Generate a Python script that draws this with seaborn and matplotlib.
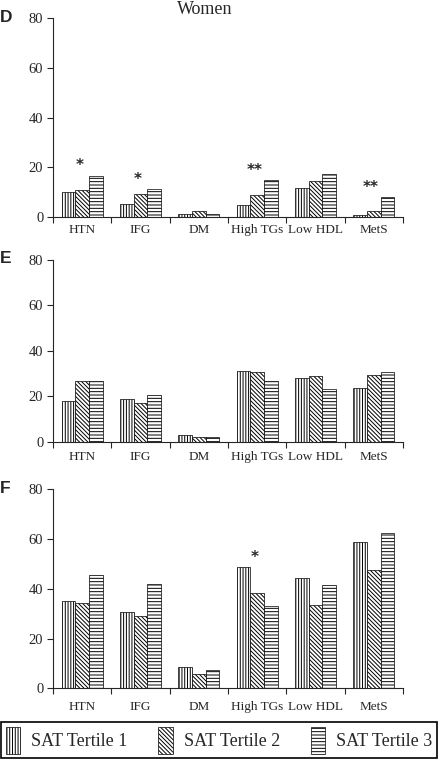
import numpy as np
import pandas as pd
import matplotlib
matplotlib.use('Agg')
import matplotlib.pyplot as plt
import seaborn as sns
from matplotlib.patches import Patch

# 数据
categories = ['HTN', 'IFG', 'DM', 'High TGs', 'Low HDL', 'MetS']
tertiles = ['SAT Tertile 1', 'SAT Tertile 2', 'SAT Tertile 3']

d_t1 = [9.9, 5.3, 1.1, 4.9, 11.5, 0.8]
d_t2 = [10.7, 9.2, 2.5, 8.8, 14.4, 2.6]
d_t3 = [16.6, 11.1, 1.2, 14.8, 17.4, 7.9]
d_sig = ['*', '*', '', '**', '', '**']

e_t1 = [18.0, 18.7, 2.8, 31.0, 28.2, 23.4]
e_t2 = [26.5, 17.1, 2.3, 30.8, 28.7, 29.5]
e_t3 = [26.8, 20.6, 1.9, 26.8, 23.2, 30.7]
e_sig = ['', '', '', '', '', '']

f_t1 = [35.1, 30.7, 8.4, 48.8, 44.4, 58.8]
f_t2 = [34.5, 29.2, 5.6, 38.4, 33.5, 47.6]
f_t3 = [45.5, 42.0, 7.2, 33.2, 41.6, 62.4]
f_sig = ['', '', '', '*', '', '']

yticks = [0, 20, 40, 60, 80]
hatches = ['||||||', '\\\\\\\\\\\\\\\\', '-----']

sns.set_style('ticks')
plt.rcParams['font.family'] = ['Liberation Serif', 'DejaVu Serif']
plt.rcParams['hatch.linewidth'] = 0.7

fig = plt.figure(figsize=(4.48, 7.59), dpi=100)

panels = [
    ('D', (d_t1, d_t2, d_t3), d_sig, [0.1183, 0.714, 0.781, 0.262], 5),
    ('E', (e_t1, e_t2, e_t3), e_sig, [0.1183, 0.418, 0.781, 0.240], 7),
    ('F', (f_t1, f_t2, f_t3), f_sig, [0.1183, 0.0931, 0.781, 0.262], 9),
]

for letter, series, sig, pos, lpad in panels:
    ax = fig.add_axes(pos)
    rows = []
    for t, vals in zip(tertiles, series):
        for c, v in zip(categories, vals):
            rows.append({'cat': c, 'tertile': t, 'val': v})
    df = pd.DataFrame(rows)
    sns.barplot(data=df, x='cat', y='val', hue='tertile', order=categories,
                hue_order=tertiles, palette=['white'] * 3, width=0.7,
                edgecolor='black', linewidth=0.5, legend=False, ax=ax,
                errorbar=None)
    for cont, h in zip(ax.containers, hatches):
        for bar in cont:
            bar.set_hatch(h)
    # 显著性标记
    for i, s in enumerate(sig):
        if s:
            top = max(vals[i] for vals in series)
            ax.text(i - 0.05, top + 4, s, ha='center', va='center',
                    fontsize=11, family='DejaVu Sans', fontweight='bold')
    ax.set_ylim(0, 80)
    ax.set_xlim(-0.5, len(categories) - 0.5)
    ax.set_yticks(yticks)
    ax.set_yticklabels([str(v) for v in yticks], fontsize=10.5)
    ax.set_xticks(np.arange(-0.5, len(categories), 1))
    ax.set_xticklabels([])
    ax.set_xticks(range(len(categories)), minor=True)
    ax.set_xticklabels(categories, minor=True, fontsize=9.5)
    ax.tick_params(axis='x', which='minor', length=0, pad=lpad)
    ax.tick_params(axis='x', which='major', length=4, width=0.8, direction='out')
    ax.tick_params(axis='y', length=4, width=0.8, pad=3)
    ax.set_xlabel('')
    ax.set_ylabel('')
    sns.despine(ax=ax)
    for sp in ['left', 'bottom']:
        ax.spines[sp].set_linewidth(0.8)
    fig.text(0.0, pos[1] + pos[3] + 0.001, letter, fontsize=12.5,
             fontweight='bold', family='Liberation Sans', ha='left', va='center')

fig.text(205 / 448, 1 - 10 / 759, 'Women', fontsize=13, ha='center', va='center')

handles = [Patch(facecolor='white', edgecolor='black', linewidth=0.5, hatch=h)
           for h in hatches]
leg = fig.legend(handles, tertiles, loc='lower left', ncol=3,
                 bbox_to_anchor=(0.003, 0.001, 0.972, 0.052), mode='expand',
                 fontsize=13, handlelength=0.8, handleheight=1.9,
                 handletextpad=0.6, borderpad=0.25, fancybox=False,
                 framealpha=1, borderaxespad=0)
leg.get_frame().set_edgecolor('black')
leg.get_frame().set_linewidth(1.2)

fig.savefig('out.png', dpi=100)
plt.close(fig)
